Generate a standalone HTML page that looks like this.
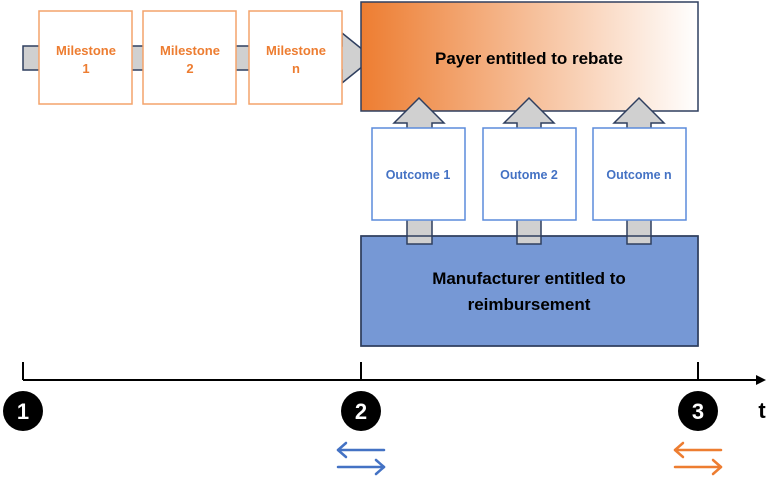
<!DOCTYPE html>
<html><head><meta charset="utf-8"><style>
html,body{margin:0;padding:0;background:#fff;}
svg{display:block;font-family:"Liberation Sans",sans-serif;}
</style></head><body>
<svg width="770" height="480" viewBox="0 0 770 480" xmlns="http://www.w3.org/2000/svg">
<defs>
<linearGradient id="g" x1="0" x2="1" y1="0" y2="0">
<stop offset="0" stop-color="#ED7D31"/><stop offset="1" stop-color="#ffffff"/>
</linearGradient>
</defs>
<!-- main horizontal arrow -->
<polygon points="23,46 342,46 342,33 373,58 342,83 342,70 23,70" fill="#D0D0D0" stroke="#2F3F5F" stroke-width="1.5"/>
<!-- milestones -->
<g fill="#fff" stroke="#F4A36B" stroke-width="1.5">
<rect x="39" y="11" width="93" height="93"/>
<rect x="143" y="11" width="93" height="93"/>
<rect x="249" y="11" width="93" height="93"/>
</g>
<g fill="#ED7D31" font-weight="bold" font-size="13" text-anchor="middle">
<text x="86" y="55">Milestone</text><text x="86" y="73">1</text>
<text x="190" y="55">Milestone</text><text x="190" y="73">2</text>
<text x="296" y="55">Milestone</text><text x="296" y="73">n</text>
</g>
<!-- payer box -->
<rect x="361" y="2" width="337" height="109" fill="url(#g)" stroke="#2F3F5F" stroke-width="1.5"/>
<text x="529" y="64" font-size="17" font-weight="bold" text-anchor="middle" fill="#000">Payer entitled to rebate</text>
<!-- manufacturer box -->
<rect x="361" y="236" width="337" height="110" fill="#7698D5" stroke="#2F3F5F" stroke-width="1.5"/>
<text x="529" y="284" font-size="17" font-weight="bold" text-anchor="middle" fill="#000">Manufacturer entitled to</text>
<text x="529" y="310" font-size="17" font-weight="bold" text-anchor="middle" fill="#000">reimbursement</text>
<!-- up arrows -->
<g fill="#D0D0D0" stroke="#2F3F5F" stroke-width="1.5">
<polygon points="407,244 407,123 394,123 419,98 444,123 432,123 432,244"/>
<polygon points="517,244 517,123 504,123 529,98 554,123 541,123 541,244"/>
<polygon points="627,244 627,123 614,123 639,98 664,123 651,123 651,244"/>
</g>
<rect x="361" y="236" width="337" height="110" fill="none" stroke="#2F3F5F" stroke-width="1.5"/>
<!-- outcomes -->
<g fill="#fff" stroke="#5B8BDB" stroke-width="1.5">
<rect x="372" y="128" width="93" height="92"/>
<rect x="483" y="128" width="93" height="92"/>
<rect x="593" y="128" width="93" height="92"/>
</g>
<g fill="#4472C4" font-weight="bold" font-size="12.5" text-anchor="middle">
<text x="418" y="179">Outcome 1</text>
<text x="529" y="179">Outome 2</text>
<text x="639" y="179">Outcome n</text>
</g>
<!-- axis -->
<g stroke="#000" stroke-width="2">
<line x1="23" y1="380" x2="758" y2="380"/>
<line x1="23" y1="362" x2="23" y2="380"/>
<line x1="361" y1="362" x2="361" y2="380"/>
<line x1="698" y1="362" x2="698" y2="380"/>
</g>
<polygon points="756,375 766,380 756,385" fill="#000"/>
<g fill="#000"><circle cx="23" cy="411" r="20"/><circle cx="361" cy="411" r="20"/><circle cx="698" cy="411" r="20"/></g>
<g fill="#fff" font-weight="bold" font-size="22" text-anchor="middle">
<text x="23" y="419">1</text><text x="361" y="419">2</text><text x="698" y="419">3</text>
</g>
<text x="762" y="418" font-weight="bold" font-size="22" text-anchor="middle" fill="#000">t</text>
<!-- exchange arrows -->
<g fill="none" stroke="#4472C4" stroke-width="2.5" stroke-linecap="round" stroke-linejoin="round">
<line x1="338" y1="450" x2="384" y2="450"/><polyline points="346,443 338,450 346,457"/>
<line x1="338" y1="467" x2="384" y2="467"/><polyline points="376,460 384,467 376,474"/>
</g>
<g fill="none" stroke="#ED7D31" stroke-width="2.5" stroke-linecap="round" stroke-linejoin="round">
<line x1="675" y1="450" x2="721" y2="450"/><polyline points="683,443 675,450 683,457"/>
<line x1="675" y1="467" x2="721" y2="467"/><polyline points="713,460 721,467 713,474"/>
</g>
</svg>
</body></html>
